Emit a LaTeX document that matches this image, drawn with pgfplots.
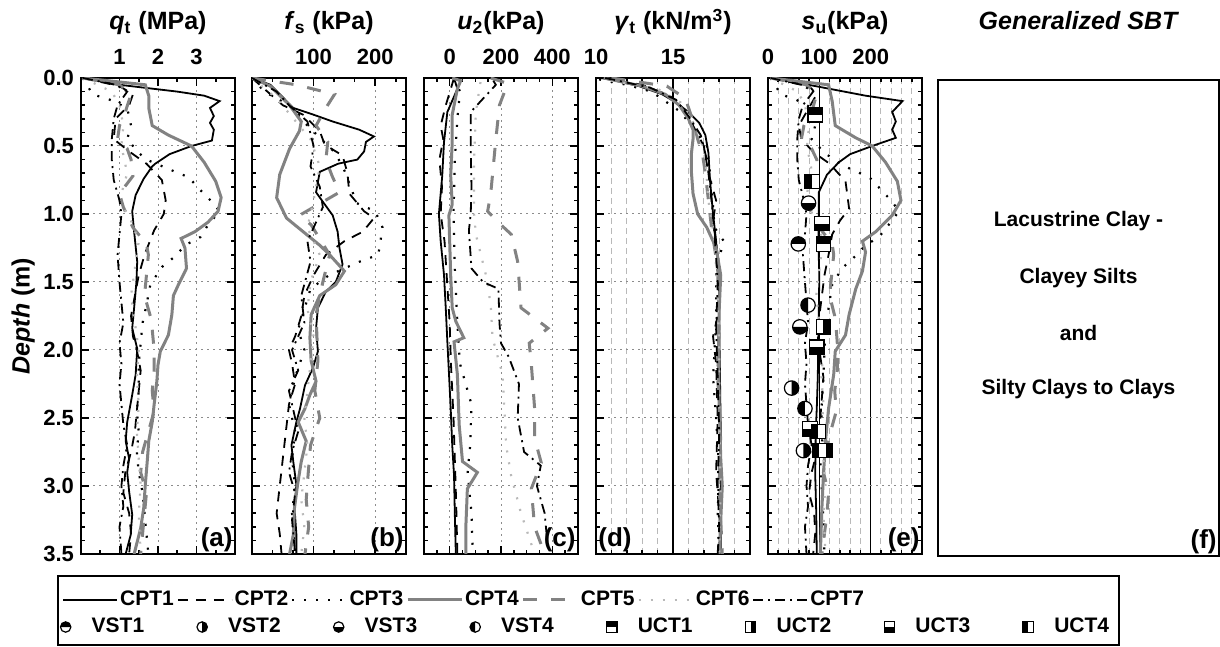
\documentclass[border=0pt]{standalone}
\usepackage{fontspec}
\setmainfont{Liberation Sans}
\usepackage{pgfplots}
\pgfplotsset{compat=1.18}
\definecolor{gfour}{RGB}{130,130,130}
\definecolor{gsix}{RGB}{185,185,185}
\definecolor{gridc}{RGB}{140,140,140}

\newcommand{\circbase}{\pgfpathcircle{\pgfpointorigin}{\pgfplotmarksize}\pgfsetfillcolor{white}\pgfusepath{fill}}
\newcommand{\circend}{\pgfpathcircle{\pgfpointorigin}{\pgfplotmarksize}\pgfusepath{stroke}}
\newcommand{\sqbase}{\pgfpathrectangle{\pgfqpoint{-\pgfplotmarksize}{-\pgfplotmarksize}}{\pgfqpoint{2\pgfplotmarksize}{2\pgfplotmarksize}}\pgfsetfillcolor{white}\pgfusepath{fill}}
\newcommand{\sqend}{\pgfpathrectangle{\pgfqpoint{-\pgfplotmarksize}{-\pgfplotmarksize}}{\pgfqpoint{2\pgfplotmarksize}{2\pgfplotmarksize}}\pgfusepath{stroke}}
\pgfdeclareplotmark{vst1}{\circbase\pgfpathmoveto{\pgfqpoint{\pgfplotmarksize}{0pt}}\pgfpatharc{0}{180}{\pgfplotmarksize}\pgfpathclose\pgfsetfillcolor{black}\pgfusepath{fill}\circend}
\pgfdeclareplotmark{vst2}{\circbase\pgfpathmoveto{\pgfqpoint{0pt}{-\pgfplotmarksize}}\pgfpatharc{-90}{90}{\pgfplotmarksize}\pgfpathclose\pgfsetfillcolor{black}\pgfusepath{fill}\circend}
\pgfdeclareplotmark{vst3}{\circbase\pgfpathmoveto{\pgfqpoint{-\pgfplotmarksize}{0pt}}\pgfpatharc{180}{360}{\pgfplotmarksize}\pgfpathclose\pgfsetfillcolor{black}\pgfusepath{fill}\circend}
\pgfdeclareplotmark{vst4}{\circbase\pgfpathmoveto{\pgfqpoint{0pt}{\pgfplotmarksize}}\pgfpatharc{90}{270}{\pgfplotmarksize}\pgfpathclose\pgfsetfillcolor{black}\pgfusepath{fill}\circend}
\pgfdeclareplotmark{uct1}{\sqbase\pgfpathrectangle{\pgfqpoint{-\pgfplotmarksize}{0pt}}{\pgfqpoint{2\pgfplotmarksize}{\pgfplotmarksize}}\pgfsetfillcolor{black}\pgfusepath{fill}\sqend}
\pgfdeclareplotmark{uct2}{\sqbase\pgfpathrectangle{\pgfqpoint{0pt}{-\pgfplotmarksize}}{\pgfqpoint{\pgfplotmarksize}{2\pgfplotmarksize}}\pgfsetfillcolor{black}\pgfusepath{fill}\sqend}
\pgfdeclareplotmark{uct3}{\sqbase\pgfpathrectangle{\pgfqpoint{-\pgfplotmarksize}{-\pgfplotmarksize}}{\pgfqpoint{2\pgfplotmarksize}{\pgfplotmarksize}}\pgfsetfillcolor{black}\pgfusepath{fill}\sqend}
\pgfdeclareplotmark{uct4}{\sqbase\pgfpathrectangle{\pgfqpoint{-\pgfplotmarksize}{-\pgfplotmarksize}}{\pgfqpoint{\pgfplotmarksize}{2\pgfplotmarksize}}\pgfsetfillcolor{black}\pgfusepath{fill}\sqend}

\pgfplotsset{
  cpt1/.style={black, mark=none, line width=0.9pt},
  cpt2/.style={black, mark=none, line width=0.9pt, dash pattern=on 5pt off 4pt},
  cpt3/.style={black, mark=none, line width=1.1pt, dash pattern=on 1pt off 5pt},
  cpt4/.style={gfour, mark=none, line width=1.5pt},
  cpt5/.style={gfour, mark=none, line width=1.5pt, dash pattern=on 7pt off 7pt},
  cpt6/.style={gsix, mark=none, line width=1.1pt, dash pattern=on 1pt off 5pt},
  cpt7/.style={black, mark=none, line width=0.9pt, dash pattern=on 5pt off 2.5pt on 1pt off 2.5pt},
  mk/.style={black, only marks, mark=#1, mark size=3.6pt, mark options={solid, line width=0.6pt}},
  panel/.style={scale only axis, width=77pt, height=238pt, anchor=north west,
    y dir=reverse, ymin=0, ymax=3.5, ytick={0,0.5,...,3.5}, minor y tick num=4,
    yticklabels={}, axis line style={line width=1pt},
    tick style={black, line width=0.8pt}, major tick length=4pt, minor tick length=2pt,
    tick align=inside, xticklabel pos=upper,
    xmajorgrids, ymajorgrids, major grid style={gridc, line width=0.5pt, dash pattern=on 1pt off 2pt},
    ticklabel style={font=\fontsize{11}{13}\selectfont\bfseries},
    /pgf/number format/assume math mode=true,
    xticklabel style={anchor=base, yshift=6.5pt}},
  gridde/.style={xminorgrids, major x grid style={black, solid, line width=0.6pt},
    minor x grid style={gsix, line width=0.5pt, dash pattern=on 3pt off 2pt}}
}

\begin{document}
\begin{tikzpicture}
\useasboundingbox (0,0) rectangle (610pt,323.5pt);

% ---------------- (a) qt
\begin{axis}[panel, at={(40.5pt,284.5pt)}, xmin=0, xmax=4, xtick={1,2,3}, minor xtick={0.5,1.5,2.5,3.5},
  yticklabels={0.0,0.5,1.0,1.5,2.0,2.5,3.0,3.5},
  ylabel={\textit{Depth} (m)}, ylabel style={font=\fontsize{12.5}{14}\selectfont\bfseries, at={(axis description cs:-0.376,0.5)}, anchor=center},
  legend columns=7,
  legend style={at={(-0.1234,-0.0966)}, anchor=west, draw=none, fill=none, inner sep=0pt,
    font=\fontsize{10.5}{12}\selectfont\bfseries, nodes={inner xsep=1pt, inner ysep=0pt},
    /tikz/every even column/.style={column sep=0.5pt}},
  legend image code/.code={\draw[#1] (0pt,0pt) -- (27pt,0pt);}]
\addplot[cpt1] coordinates {(0.05,0.00) (1.0,0.05) (2.5,0.10) (3.2,0.13) (3.6,0.17) (3.35,0.22) (3.45,0.28) (3.35,0.33) (3.45,0.38) (3.4,0.46) (2.87,0.50) (2.3,0.56) (1.93,0.63) (1.85,0.65) (1.63,0.74) (1.42,0.86) (1.33,0.98) (1.38,1.13) (1.46,1.35) (1.44,1.5) (1.38,1.69) (1.33,1.84) (1.46,1.99) (1.42,2.18) (1.33,2.33) (1.2,2.53) (1.16,2.67) (1.25,2.8) (1.2,2.9) (1.25,3.04) (1.33,3.21) (1.29,3.36) (1.16,3.5)};
\addlegendentry{CPT1}
\addplot[cpt2] coordinates {(0.05,0) (1.0,0.06) (1.35,0.12) (1.25,0.2) (0.9,0.3) (0.85,0.45) (1.3,0.55) (1.7,0.63) (2.1,0.75) (2.2,0.9) (2.15,1.0) (1.9,1.12) (1.65,1.3) (1.5,1.45) (1.4,1.6) (1.3,1.75) (1.35,1.9) (1.45,2.0) (1.55,2.15) (1.5,2.3) (1.45,2.45) (1.4,2.6) (1.3,2.75) (1.15,2.9) (1.1,3.05) (1.25,3.2) (1.3,3.35) (1.25,3.5)};
\addlegendentry{CPT2}
\addplot[cpt3] coordinates {(0.05,0) (0.3,0.12) (0.75,0.16) (1.2,0.22) (1.3,0.35) (1.2,0.45) (1.5,0.55) (1.7,0.6) (2.45,0.69) (2.8,0.73) (3.05,0.81) (3.4,0.91) (3.6,0.98) (3.3,1.08) (3.1,1.17) (2.7,1.23) (2.45,1.31) (2.1,1.39) (1.8,1.52) (1.7,1.67) (1.6,1.8) (1.55,1.95) (1.5,2.1) (1.5,2.3) (1.45,2.45) (1.5,2.6) (1.45,2.75) (1.5,2.9) (1.6,3.05) (1.65,3.2) (1.7,3.35) (1.75,3.5)};
\addlegendentry{CPT3}
\addplot[cpt4] coordinates {(0.05,0.0) (1.67,0.05) (1.76,0.13) (1.76,0.22) (1.85,0.35) (2.27,0.42) (2.87,0.5) (3.2,0.62) (3.5,0.76) (3.64,0.88) (3.56,0.98) (3.3,1.06) (2.96,1.13) (2.6,1.18) (2.7,1.25) (2.74,1.4) (2.53,1.52) (2.4,1.6) (2.36,1.74) (2.27,1.89) (2.06,2.01) (2.0,2.11) (1.97,2.23) (1.9,2.4) (1.85,2.53) (1.76,2.67) (1.72,2.82) (1.67,2.99) (1.63,3.16) (1.55,3.31) (1.38,3.5)};
\addlegendentry{CPT4}
\addplot[cpt5] coordinates {(0.05,0.0) (1.0,0.05) (1.3,0.12) (1.15,0.25) (1.0,0.35) (0.95,0.45) (1.2,0.52) (1.3,0.6) (1.35,0.72) (1.0,0.85) (1.1,0.95) (1.35,1.1) (1.7,1.22) (1.75,1.3) (1.7,1.45) (1.65,1.6) (1.8,1.75) (1.85,1.85) (1.9,2.0) (1.9,2.15) (1.85,2.3) (1.9,2.45) (1.75,2.6) (1.6,2.75) (1.55,2.9) (1.7,3.05) (1.65,3.2) (1.6,3.35) (1.55,3.5)};
\addlegendentry{CPT5}
\addplot[cpt6] coordinates {(0.05,0) (0.8,0.1) (1.0,0.2) (1.1,0.35) (1.05,0.5) (1.2,0.7) (1.0,0.9) (1.3,1.05) (1.5,1.2) (1.4,1.4) (1.3,1.6) (1.4,1.8) (1.5,2.0) (1.45,2.2) (1.5,2.4) (1.45,2.6) (1.5,2.8) (1.55,3.0) (1.5,3.2) (1.55,3.5)};
\addlegendentry{CPT6}
\addplot[cpt7] coordinates {(0.05,0) (0.9,0.05) (1.2,0.1) (0.95,0.2) (0.85,0.3) (0.8,0.45) (0.8,0.6) (0.85,0.75) (1.0,0.9) (1.05,1.0) (1.0,1.15) (0.95,1.3) (1.0,1.5) (1.05,1.65) (1.1,1.8) (1.0,1.95) (1.05,2.1) (1.0,2.25) (1.05,2.4) (1.1,2.55) (1.2,2.7) (1.1,2.85) (1.05,3.0) (1.1,3.15) (1.0,3.3) (1.05,3.5)};
\addlegendentry{CPT7}
\node[anchor=south east, font=\fontsize{13}{14}\selectfont\bfseries, inner sep=1pt] at (rel axis cs:1,0) {(a)};
\end{axis}

% ---------------- (b) fs
\begin{axis}[panel, at={(126pt,284.5pt)}, xmin=0, xmax=250, xtick={100,200}, minor xtick={33.3,66.7,133.3,166.7,233.3}]
\addplot[cpt1] coordinates {(0,0) (30,0.05) (67,0.22) (100,0.27) (131,0.32) (174,0.38) (198,0.43) (185,0.47) (182,0.54) (171,0.6) (140,0.63) (110,0.69) (104,0.84) (115,0.91) (131,1.01) (139,1.13) (142,1.25) (147,1.37) (136,1.5) (120,1.57) (107,1.69) (104,1.84) (107,2.01) (99,2.13) (86,2.26) (78,2.43) (72,2.53) (64,2.7) (67,2.82) (72,2.99) (69,3.16) (72,3.35) (72,3.5)};
\addplot[cpt2] coordinates {(0,0) (50,0.2) (83,0.27) (110,0.39) (118,0.49) (147,0.57) (155,0.7) (158,0.85) (182,0.98) (198,1.03) (180,1.13) (150,1.2) (120,1.3) (100,1.45) (85,1.6) (80,1.75) (70,1.9) (60,2.0) (65,2.1) (70,2.25) (60,2.4) (55,2.6) (50,2.8) (45,3.0) (40,3.2) (45,3.35) (48,3.5)};
\addplot[cpt3] coordinates {(0,0) (20,0.1) (60,0.2) (90,0.35) (135,0.55) (150,0.68) (160,0.8) (170,0.92) (200,0.98) (212,1.1) (205,1.3) (175,1.35) (125,1.45) (95,1.55) (85,1.7) (75,1.85) (85,2.0) (70,2.2) (60,2.4) (70,2.6) (65,2.8) (70,3.0) (65,3.2) (70,3.5)};
\addplot[cpt4] coordinates {(0,0) (30,0.06) (61,0.2) (80,0.32) (77,0.39) (61,0.52) (45,0.71) (40,0.88) (56,1.03) (83,1.13) (110,1.23) (126,1.3) (150,1.42) (136,1.52) (110,1.6) (96,1.74) (94,1.91) (96,2.08) (104,2.23) (94,2.33) (86,2.43) (75,2.53) (88,2.67) (80,2.82) (74,2.99) (69,3.16) (67,3.36) (61,3.5)};
\addplot[cpt5] coordinates {(0,0) (72,0.05) (134,0.12) (120,0.22) (104,0.35) (123,0.47) (120,0.6) (130,0.72) (142,0.84) (100,0.95) (77,1.01) (96,1.08) (126,1.3) (115,1.5) (104,1.74) (107,2.08) (102,2.3) (110,2.5) (95,2.7) (91,2.92) (88,3.1) (92,3.3) (86,3.5)};
\addplot[cpt6] coordinates {(0,0) (40,0.15) (95,0.45) (110,0.65) (100,0.9) (90,1.1) (110,1.3) (95,1.5) (90,1.7) (100,1.9) (95,2.1) (90,2.3) (85,2.5) (90,2.7) (85,2.9) (80,3.1) (85,3.3) (80,3.5)};
\addplot[cpt7] coordinates {(0,0) (40,0.1) (60,0.2) (90,0.32) (100,0.5) (95,0.65) (110,0.8) (115,0.95) (100,1.1) (90,1.2) (95,1.35) (80,1.6) (85,1.8) (65,2.0) (75,2.15) (60,2.3) (70,2.5) (75,2.6) (65,2.75) (60,2.9) (70,3.05) (65,3.25) (70,3.5)};
\node[anchor=south east, font=\fontsize{13}{14}\selectfont\bfseries, inner sep=1pt] at (rel axis cs:1,0) {(b)};
\end{axis}

% ---------------- (c) u2
\begin{axis}[panel, at={(212pt,284.5pt)}, xmin=-100, xmax=500, xtick={0,200,400}, minor xtick={-50,50,100,150,250,300,350,450}]
\addplot[cpt1] coordinates {(17,0.0) (30,0.08) (-9,0.25) (-22,0.47) (-29,0.72) (-42,1.0) (-35,1.2) (-22,1.45) (-15,1.7) (-9,1.94) (-2,2.2) (4,2.43) (10,2.7) (17,2.92) (20,3.2) (24,3.5)};
\addplot[cpt2] coordinates {(17,0.0) (-15,0.2) (-35,0.35) (-25,0.45) (-40,0.6) (-30,0.8) (-35,1.0) (-20,1.2) (-10,1.5) (0,1.8) (5,2.1) (15,2.5) (20,2.8) (25,3.1) (30,3.5)};
\addplot[cpt3] coordinates {(20,0.0) (40,0.1) (30,0.3) (20,0.6) (15,1.0) (20,1.4) (30,1.8) (40,2.1) (85,2.4) (80,2.7) (70,2.9) (85,3.2) (90,3.5)};
\addplot[cpt4] coordinates {(10,0.0) (43,0.02) (30,0.08) (10,0.27) (10,0.47) (4,0.72) (10,0.93) (-3,1.01) (4,1.45) (10,1.69) (24,1.79) (55,1.91) (17,1.94) (30,2.18) (37,2.55) (50,2.82) (108,2.9) (69,3.02) (63,3.3) (63,3.5)};
\addplot[cpt5] coordinates {(160,0.0) (226,0.04) (194,0.2) (180,0.45) (160,0.85) (148,0.98) (200,1.08) (240,1.15) (265,1.35) (278,1.69) (383,1.84) (310,1.95) (318,2.1) (331,2.43) (331,2.65) (357,2.83) (318,3.02) (331,3.3) (370,3.5)};
\addplot[cpt6] coordinates {(120,0.03) (102,0.25) (95,0.6) (95,1.0) (102,1.15) (148,1.5) (161,1.7) (167,1.91) (206,2.18) (213,2.43) (220,2.7) (239,2.92) (278,3.2) (331,3.5)};
\addplot[cpt7] coordinates {(170,0.02) (180,0.05) (82,0.25) (82,0.5) (85,0.8) (82,1.0) (75,1.12) (85,1.4) (130,1.5) (190,1.55) (194,1.8) (200,1.95) (230,2.05) (270,2.25) (265,2.5) (290,2.75) (355,2.85) (340,3.0) (370,3.2) (380,3.4)};
\node[anchor=south east, font=\fontsize{13}{14}\selectfont\bfseries, inner sep=1pt] at (rel axis cs:1,0) {(c)};
\end{axis}

% ---------------- (d) gamma
\begin{axis}[panel, gridde, at={(298pt,284.5pt)}, xmin=10, xmax=20, xtick={10,15}, minor xtick={11,12,13,14,16,17,18,19}]
\addplot[cpt1] coordinates {(10.5,0.0) (12.8,0.06) (14.3,0.12) (15.2,0.18) (16.0,0.25) (16.7,0.33) (17.1,0.42) (17.3,0.55) (17.4,0.75) (17.6,1.0) (17.8,1.2) (18.0,1.5) (18.0,1.8) (18.05,2.2) (18.1,2.6) (18.1,3.0) (18.1,3.5)};
\addplot[cpt2] coordinates {(10.3,0.0) (13.0,0.05) (14.8,0.13) (15.8,0.25) (16.3,0.35) (17.0,0.5) (17.3,0.7) (17.8,0.9) (17.6,1.05) (17.9,1.3) (18.0,1.7) (17.6,1.9) (17.8,2.1) (17.9,2.5) (17.8,2.9) (18.0,3.2) (18.1,3.5)};
\addplot[cpt3] coordinates {(10.2,0.01) (12.0,0.05) (13.6,0.1) (15.5,0.25) (16.5,0.4) (17.2,0.5) (17.5,0.8) (17.7,1.1) (18.3,1.2) (17.8,1.4) (17.8,1.8) (17.6,2.2) (17.8,2.5) (18.0,2.9) (17.9,3.2) (18.0,3.5)};
\addplot[cpt4] coordinates {(10.5,0.0) (13.0,0.06) (14.5,0.12) (15.4,0.2) (16.0,0.3) (16.3,0.38) (16.3,0.45) (16.2,0.55) (16.2,0.7) (16.3,0.85) (16.6,1.0) (17.2,1.1) (17.8,1.25) (18.1,1.45) (18.0,1.7) (17.95,2.0) (18.0,2.4) (18.1,2.8) (18.2,3.0) (18.0,3.5)};
\addplot[cpt5] coordinates {(11.0,0.0) (14.6,0.06) (15.8,0.15) (16.1,0.25) (16.4,0.35) (16.6,0.45) (16.9,0.55) (17.1,0.7) (17.3,0.9) (17.5,1.1) (17.9,1.4) (18.0,1.8) (17.9,2.2) (18.1,2.6) (18.0,3.0) (18.2,3.5)};
\addplot[cpt6] coordinates {(11.0,0.02) (14.0,0.08) (15.5,0.18) (16.2,0.3) (16.8,0.45) (17.1,0.6) (17.3,0.9) (17.7,1.2) (17.9,1.6) (18.0,2.0) (18.0,2.5) (18.1,3.0) (18.0,3.5)};
\addplot[cpt7] coordinates {(10.6,0.0) (13.5,0.07) (15.2,0.16) (16.0,0.28) (16.8,0.42) (17.2,0.6) (17.5,0.9) (17.7,1.15) (17.9,1.5) (17.8,1.85) (17.9,2.2) (18.0,2.6) (17.9,3.0) (18.0,3.3) (17.9,3.5)};
\node[anchor=south west, font=\fontsize{13}{14}\selectfont\bfseries, inner sep=1pt] at (rel axis cs:0,0) {(d)};
\end{axis}

% ---------------- (e) su
\begin{axis}[panel, gridde, at={(384pt,284.5pt)}, xmin=0, xmax=300, xtick={0,100,200},
  minor xtick={20,40,60,80,120,140,160,180,220,240,260,280},
  legend columns=8,
  legend style={at={(-4.667,-0.1534)}, anchor=west, draw=none, fill=none, inner sep=0pt,
    font=\fontsize{10.5}{12}\selectfont\bfseries, nodes={inner xsep=1pt, inner ysep=0pt},
    /tikz/every even column/.style={column sep=20pt}},
  legend image code/.code={\draw[#1, only marks, mark size=2.6pt] plot coordinates {(8pt,0pt)}; \path[draw=none] (0pt,0pt) -- (20pt,0pt);}]
\addplot[cpt1, forget plot] coordinates {(5,0.0) (79,0.05) (190,0.13) (262,0.17) (242,0.25) (249,0.32) (242,0.38) (249,0.44) (203,0.5) (160,0.56) (138,0.62) (115,0.71) (99,0.84) (99,1.0) (98,1.2) (100,1.45) (99,1.7) (98,1.94) (97,2.2) (95,2.43) (93,2.6) (92,2.92) (94,3.2) (95,3.5)};
\addplot[cpt2, forget plot] coordinates {(5,0.0) (80,0.06) (95,0.12) (75,0.25) (60,0.35) (65,0.45) (90,0.55) (120,0.63) (151,0.76) (158,0.96) (140,1.05) (125,1.15) (118,1.3) (110,1.45) (105,1.6) (100,1.75) (97,1.9) (102,2.05) (108,2.2) (104,2.4) (100,2.6) (95,2.75) (85,2.9) (80,3.05) (90,3.2) (92,3.35) (88,3.5)};
\addplot[cpt3, forget plot] coordinates {(5,0.0) (25,0.12) (55,0.16) (85,0.22) (92,0.35) (85,0.45) (110,0.55) (144,0.64) (174,0.69) (200,0.74) (220,0.82) (242,0.91) (255,0.98) (235,1.08) (216,1.17) (190,1.23) (170,1.31) (144,1.4) (125,1.52) (118,1.69) (112,1.85) (110,2.0) (108,2.2) (104,2.45) (106,2.65) (102,2.85) (105,3.05) (108,3.25) (110,3.5)};
\addplot[cpt4, forget plot] coordinates {(5,0.0) (118,0.05) (125,0.17) (131,0.35) (171,0.44) (203,0.5) (229,0.62) (252,0.76) (259,0.9) (242,1.01) (210,1.13) (184,1.2) (190,1.28) (184,1.42) (171,1.55) (158,1.74) (151,1.89) (131,2.01) (128,2.18) (118,2.43) (112,2.67) (108,2.92) (105,3.16) (102,3.5)};
\addplot[cpt5, forget plot] coordinates {(5,0.0) (75,0.05) (95,0.12) (85,0.25) (70,0.35) (65,0.45) (85,0.52) (95,0.6) (98,0.72) (72,0.85) (80,0.95) (100,1.1) (125,1.22) (128,1.3) (124,1.45) (120,1.6) (130,1.75) (133,1.85) (136,2.0) (135,2.15) (130,2.3) (133,2.45) (122,2.6) (112,2.75) (108,2.9) (118,3.05) (115,3.2) (110,3.35) (105,3.5)};
\addplot[cpt6, forget plot] coordinates {(5,0.0) (58,0.1) (72,0.2) (80,0.35) (76,0.5) (86,0.7) (72,0.9) (94,1.05) (108,1.2) (100,1.4) (94,1.6) (100,1.8) (108,2.0) (104,2.2) (108,2.4) (104,2.6) (108,2.8) (112,3.0) (108,3.2) (112,3.5)};
\addplot[cpt7, forget plot] coordinates {(5,0.0) (65,0.05) (88,0.1) (68,0.2) (60,0.3) (57,0.45) (57,0.6) (60,0.75) (70,0.9) (75,1.0) (72,1.15) (68,1.3) (72,1.5) (75,1.65) (78,1.8) (72,1.95) (75,2.1) (72,2.25) (75,2.4) (78,2.55) (85,2.7) (78,2.85) (75,3.0) (78,3.15) (72,3.3) (75,3.5)};
\addplot[mk=vst1] coordinates {(59,1.22)};
\addlegendentry{VST1}
\addplot[mk=vst2] coordinates {(46,2.28) (69,2.74)};
\addlegendentry{VST2}
\addplot[mk=vst3] coordinates {(79,0.92) (62,1.83)};
\addlegendentry{VST3}
\addplot[mk=vst4] coordinates {(78,1.67) (72,2.43)};
\addlegendentry{VST4}
\addplot[mk=uct1] coordinates {(92,0.27) (108,1.22)};
\addlegendentry{UCT1}
\addplot[mk=uct2] coordinates {(108,1.83) (112,2.74)};
\addlegendentry{UCT2}
\addplot[mk=uct3] coordinates {(105,1.07) (95,1.98) (82,2.58)};
\addlegendentry{UCT3}
\addplot[mk=uct4] coordinates {(86,0.76) (100,2.74) (98,2.6)};
\addlegendentry{UCT4}
\node[anchor=south east, font=\fontsize{13}{14}\selectfont\bfseries, inner sep=1pt] at (rel axis cs:1,0) {(e)};
\end{axis}

% ---------------- (f) SBT box
\begin{axis}[scale only axis, width=140.5pt, height=238pt, anchor=north west, at={(469pt,283.5pt)},
  xmin=0, xmax=1, ymin=0, ymax=1, ticks=none, axis line style={line width=1pt}]
\node[font=\fontsize{10.5}{12}\selectfont\bfseries] at (rel axis cs:0.5,0.704) {Lacustrine Clay -};
\node[font=\fontsize{10.5}{12}\selectfont\bfseries] at (rel axis cs:0.5,0.584) {Clayey Silts};
\node[font=\fontsize{10.5}{12}\selectfont\bfseries] at (rel axis cs:0.5,0.468) {and};
\node[font=\fontsize{10.5}{12}\selectfont\bfseries] at (rel axis cs:0.5,0.351) {Silty Clays to Clays};
\node[anchor=south east, font=\fontsize{13}{14}\selectfont\bfseries, inner sep=1pt] at (rel axis cs:1,0) {(f)};
\end{axis}

% titles
\node[anchor=base, font=\fontsize{12.5}{14}\selectfont\bfseries] at (79pt,308.5pt) {\textit{q}\textsubscript{t} (MPa)};
\node[anchor=base, font=\fontsize{12.5}{14}\selectfont\bfseries] at (164.5pt,308.5pt) {\textit{f}\textsubscript{s} (kPa)};
\node[anchor=base, font=\fontsize{12.5}{14}\selectfont\bfseries] at (250.5pt,308.5pt) {\textit{u}\textsubscript{2}(kPa)};
\node[anchor=base, font=\fontsize{12.5}{14}\selectfont\bfseries] at (336.5pt,308.5pt) {\textit{γ}\textsubscript{t} (kN/m\textsuperscript{3})};
\node[anchor=base, font=\fontsize{12.5}{14}\selectfont\bfseries] at (422.5pt,308.5pt) {\textit{s}\textsubscript{u}(kPa)};
\node[anchor=base, font=\fontsize{12.5}{14}\selectfont\bfseries\itshape] at (539pt,308.5pt) {Generalized SBT};
% legend frame
\draw[line width=1pt] (29pt,1pt) rectangle (559.5pt,35.5pt);
\end{tikzpicture}
\end{document}
